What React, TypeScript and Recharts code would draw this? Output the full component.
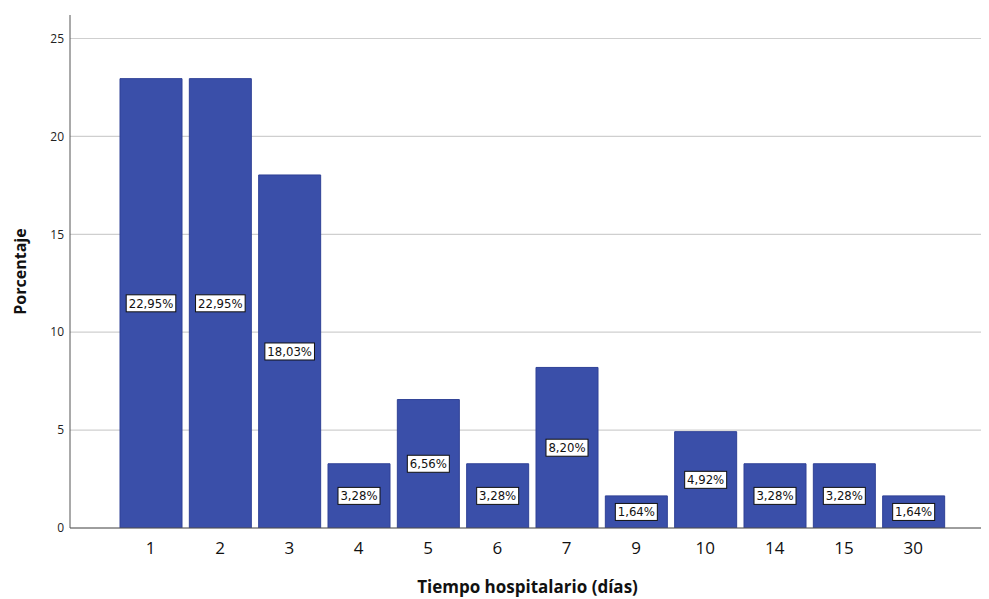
import React from 'react';
import { BarChart, Bar, XAxis, YAxis, CartesianGrid, LabelList, Label } from 'recharts';

const categories = ['1', '2', '3', '4', '5', '6', '7', '9', '10', '14', '15', '30'];
const percentages = [22.95, 22.95, 18.03, 3.28, 6.56, 3.28, 8.2, 1.64, 4.92, 3.28, 3.28, 1.64];
const yTicks = [0, 5, 10, 15, 20, 25];

const data = categories.map((c, i) => ({ dias: c, pct: percentages[i] }));

const fmt = (v: number) => v.toFixed(2).replace('.', ',') + '%';

const BoxLabel = (props: any) => {
  const { x, y, width, height, value } = props;
  const cx = x + width / 2;
  const cy = y + height / 2;
  const txt = fmt(value);
  const w = txt.length * 7.6 + 4;
  const h = 17;
  return (
    <g>
      <rect x={cx - w / 2} y={cy - h / 2} width={w} height={h} fill="#ffffff" stroke="#111111" strokeWidth={1} />
      <text x={cx} y={cy + 4.5} textAnchor="middle" fontSize={13} fill="#111" fontFamily="'DejaVu Sans Condensed', 'Open Sans', sans-serif">
        {txt}
      </text>
    </g>
  );
};

export default function App() {
  return (
    <div style={{ width: 981, height: 591, fontFamily: "'Open Sans', sans-serif" }}>
      <BarChart width={981} height={591} data={data} margin={{ top: 7, right: 4, bottom: 0, left: 0 }}>
        <CartesianGrid vertical={false} horizontalValues={yTicks} stroke="#cfcfcf" strokeWidth={1.2} />
        <XAxis
          dataKey="dias"
          height={71}
          padding={{ left: 46, right: 37 }}
          tickLine={false}
          tickMargin={8}
          stroke="#555"
          tick={{ fill: '#111', fontSize: 17, fontFamily: "'Open Sans', sans-serif" }}
        >
          <Label value="Tiempo hospitalario (días)" position="insideBottom" offset={6} style={{ fontSize: 17, fontWeight: 'bold', fill: '#111', fontFamily: "'Open Sans', sans-serif" }} />
        </XAxis>
        <YAxis
          width={62}
          domain={[0, 26.2]}
          ticks={yTicks}
          tickLine={false}
          tickMargin={0}
          stroke="#555"
          allowDataOverflow
          tick={{ fill: '#222', fontSize: 12, fontFamily: "'Open Sans', sans-serif" }}
        >
          <Label value="Porcentaje" angle={-90} position="insideLeft" offset={12} style={{ textAnchor: 'middle', fontSize: 16, fontWeight: 'bold', fill: '#111', fontFamily: "'Open Sans', sans-serif" }} />
        </YAxis>
        <Bar dataKey="pct" fill="#3A4FA9" stroke="#2F4196" strokeWidth={1} barSize={62} isAnimationActive={false}>
          <LabelList dataKey="pct" content={BoxLabel} />
        </Bar>
      </BarChart>
    </div>
  );
}
